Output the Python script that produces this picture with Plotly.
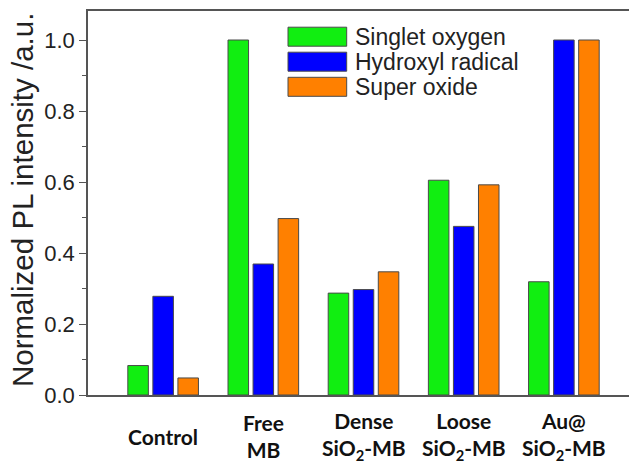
import plotly.graph_objects as go

categories = ["Control", "Free<br>MB", "Dense<br>SiO<sub>2</sub>-MB", "Loose<br>SiO<sub>2</sub>-MB", "Au@<br>SiO<sub>2</sub>-MB"]
series_names = ["Singlet oxygen", "Hydroxyl radical", "Super oxide"]
singlet = [0.083, 1.0, 0.287, 0.605, 0.319]
hydroxyl = [0.278, 0.369, 0.297, 0.475, 1.0]
superoxide = [0.048, 0.497, 0.347, 0.592, 1.0]
y_ticks = [0.0, 0.2, 0.4, 0.6, 0.8, 1.0]

colors = ["#11EE11", "#0000FF", "#FF8000"]
values = [singlet, hydroxyl, superoxide]
xpos = list(range(len(categories)))

W, H = 629, 463
L, R, T, B = 88, 0, 11, 68
pw, ph = W - L - R, H - T - B

fig = go.Figure()
for name, vals, c in zip(series_names, values, colors):
    fig.add_trace(go.Bar(x=xpos, y=vals, name=name, marker=dict(color=c, line=dict(color="#4a4a4a", width=1)),
                         showlegend=False))

fig.update_layout(
    width=W, height=H, margin=dict(l=L, r=R, t=T, b=B),
    paper_bgcolor="white", plot_bgcolor="white",
    barmode="group", bargap=0.25, bargroupgap=0.18,
    font=dict(family="Liberation Sans, Arial", color="#222"),
    xaxis=dict(range=[-0.75, 4.65], tickvals=xpos, showticklabels=False,
               showline=True, linecolor="#555", linewidth=1.5, mirror=True, ticks="", showgrid=False, zeroline=False),
    yaxis=dict(range=[0, 1.0817], tickvals=y_ticks, ticktext=[f"{v:.1f}" for v in y_ticks],
               tickfont=dict(size=22, family="Liberation Sans, Arial", color="#222"),
               showline=True, linecolor="#555", linewidth=1.5, ticks="outside", ticklen=7, tickwidth=1.2,
               tickcolor="#555", showgrid=False, zeroline=False,
               minor=dict(ticks="outside", ticklen=4, dtick=0.1, tickcolor="#555", tickwidth=1.2)),
)

# x category labels
for x, lab in zip(xpos, categories):
    fig.add_annotation(x=x, xref="x", y=-(436 - (T + ph)) / ph, yref="paper", text="<b>" + lab.replace("<br>", "</b><br><b>") + "</b>",
                       showarrow=False, xanchor="center", yanchor="middle",
                       font=dict(family="Lato, Open Sans", size=21, color="#111"), align="center")

# y axis title
fig.add_annotation(x=(22 - L) / pw, xref="paper", y=(T + ph - 200) / ph, yref="paper",
                   text="Normalized PL intensity /a.u.", textangle=-90, showarrow=False,
                   xanchor="center", yanchor="middle",
                   font=dict(family="Liberation Sans, Arial", size=29.5, color="#222"))

# legend
rows = [36.7, 61.7, 86.8]
for name, c, yc in zip(series_names, colors, rows):
    fig.add_shape(type="rect", xref="paper", yref="paper",
                  x0=(288 - L) / pw, x1=(346.7 - L) / pw,
                  y0=(T + ph - (yc - 9.5)) / ph, y1=(T + ph - (yc + 9.5)) / ph,
                  fillcolor=c, line=dict(color="#4a4a4a", width=1))
    fig.add_annotation(x=(353 - L) / pw, xref="paper", y=(T + ph - yc) / ph, yref="paper", text=name,
                       showarrow=False, xanchor="left", yanchor="middle",
                       font=dict(family="Liberation Sans, Arial", size=23, color="#222"))

fig.write_html("out.html", config={"displayModeBar": False},
               post_script="document.body.style.margin='0';document.body.style.overflow='hidden';")
